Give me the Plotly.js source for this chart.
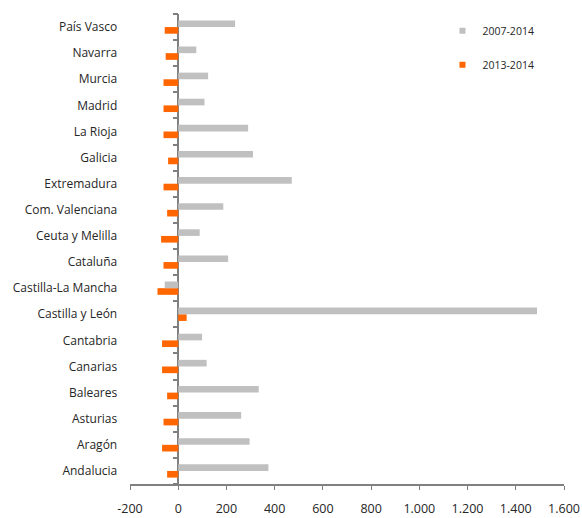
<!DOCTYPE html>
<html>
<head>
<meta charset="utf-8">
<script src="https://cdn.plot.ly/plotly-3.0.1.min.js"></script>
<style>html,body{margin:0;padding:0;background:#fff;}#chart{width:582px;height:518px;}</style>
</head>
<body>
<div id="chart"></div>
<script>
const categories = ["Andalucia","Aragón","Asturias","Baleares","Canarias","Cantabria","Castilla y León","Castilla-La Mancha","Cataluña","Ceuta y Melilla","Com. Valenciana","Extremadura","Galicia","La Rioja","Madrid","Murcia","Navarra","País Vasco"];
const series2007_2014 = [374,296,261,334,118,99,1488,-56,207,89,187,471,310,290,109,124,75,236];
const series2013_2014 = [-46,-67,-61,-46,-67,-67,35,-86,-61,-71,-46,-61,-42,-61,-61,-61,-52,-56];
const seriesNames = ["2007-2014","2013-2014"];
const xTicks = [-200,0,200,400,600,800,1000,1200,1400,1600];
const xTickText = xTicks.map(v => (v < 0 ? "-" : "") + String(Math.abs(v)).replace(/\B(?=(\d{3})+(?!\d))/g, "."));
const xMin = xTicks[0], xMax = xTicks[xTicks.length - 1];

const GREY = "#c0c0c0", ORANGE = "#ff6600", FONT = "Open Sans, sans-serif", TXT = "#262626";

const traces = [
  {type:"bar", orientation:"h", name:seriesNames[1], y:categories, x:series2013_2014,
   marker:{color:ORANGE}, showlegend:false, hoverinfo:"x+y"},
  {type:"bar", orientation:"h", name:seriesNames[0], y:categories, x:series2007_2014,
   marker:{color:GREY}, showlegend:false, hoverinfo:"x+y"},
  {type:"scatter", mode:"markers", name:seriesNames[0], x:[null], y:[null], legendgroup:"a",
   marker:{symbol:"square", size:6, color:GREY}, showlegend:true},
  {type:"scatter", mode:"markers", name:seriesNames[1], x:[null], y:[null], legendgroup:"b",
   marker:{symbol:"square", size:6, color:ORANGE}, showlegend:true}
];

const layout = {
  width:582, height:518,
  margin:{l:130, r:18, t:14, b:34},
  paper_bgcolor:"#fff", plot_bgcolor:"#fff",
  separators:",.",
  font:{family:FONT, color:TXT, size:12},
  barmode:"group", bargap:0.49, bargroupgap:0,
  xaxis:{range:[xMin,xMax], tickvals:xTicks, ticktext:xTickText, showgrid:false,
    zeroline:true, zerolinecolor:"#808080", zerolinewidth:2,
    showline:true, linecolor:"#808080", linewidth:2, ticks:"outside", ticklen:4, tickcolor:"#808080", tickwidth:1,
    ticklabelstandoff:8,
    tickfont:{family:FONT, size:12.5, color:TXT}, fixedrange:true},
  yaxis:{type:"category", categoryorder:"array", categoryarray:categories, range:[-0.5,17.5],
    anchor:"free", position:(0 - xMin) / (xMax - xMin), side:"left",
    showgrid:false, zeroline:false, showline:false,
    ticks:"outside", tickson:"boundaries", ticklen:5, tickwidth:2, tickcolor:"#7f7f7f",
    ticklabelstandoff:61,
    tickfont:{family:FONT, size:12, color:TXT}, fixedrange:true},
  legend:{x:0.72, y:0.995, xanchor:"left", yanchor:"top", traceorder:"grouped", tracegroupgap:15,
    font:{family:FONT, size:10.5, color:TXT}, bgcolor:"rgba(0,0,0,0)", itemwidth:30},
  showlegend:true
};

Plotly.newPlot("chart", traces, layout, {displayModeBar:false, staticPlot:true});
</script>
</body>
</html>
